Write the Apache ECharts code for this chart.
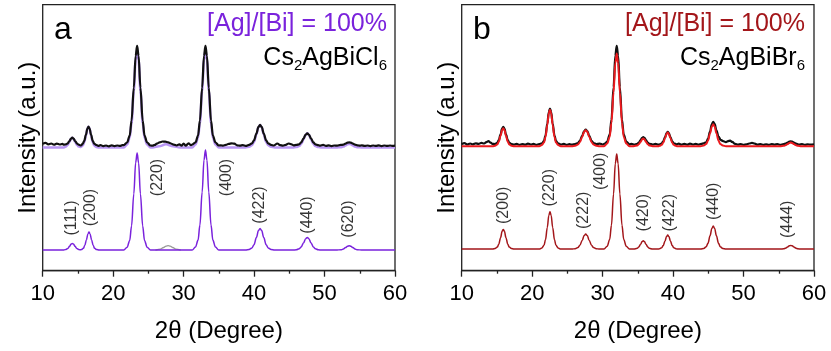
<!DOCTYPE html>
<html><head><meta charset="utf-8">
<script src="https://cdn.jsdelivr.net/npm/echarts@6/dist/echarts.min.js"></script>
<style>html,body{margin:0;padding:0;background:#fff}#c{width:831px;height:351px}</style>
</head><body><div id="c"></div>
<script>
// ---------- Panel a : Cs2AgBiCl6 ----------
const leftExp = [[10,63.4],[10.4,63.9],[10.8,63.2],[11.2,63.6],[11.6,63.0],[12.0,63.5],[12.4,63.1],[12.8,63.4],[13.0,63.0],[13.3,63.2],[13.52,63.58],[13.8,64.86],[14.02,66.1],[14.2,66.5],[14.38,66.1],[14.6,64.86],[14.88,63.58],[15.1,63.0],[15.42,62.6],[15.7,63.54],[15.9,64.95],[16.14,68.05],[16.34,71.06],[16.5,72.0],[16.66,71.06],[16.86,68.05],[17.1,64.95],[17.3,63.54],[17.58,62.9],[17.9,62.4],[18.2,62.8],[18.6,62.3],[19.0,62.6],[19.4,62.2],[19.8,62.7],[20.2,62.3],[20.6,62.6],[21.0,62.4],[21.3,62.8],[21.51,62.8],[21.98,64.1],[22.35,67.6],[22.61,75.0],[22.93,91.5],[23.19,107.4],[23.4,112.4],[23.61,107.4],[23.87,91.5],[24.19,75.0],[24.45,67.6],[24.82,64.1],[25.29,62.6],[25.6,62.5],[25.9,62.9],[26.2,63.5],[26.6,64.2],[27.0,64.6],[27.4,64.5],[27.8,64.2],[28.2,63.6],[28.6,63.0],[29.0,62.6],[29.4,63.2],[29.7,62.5],[30.0,63.6],[30.3,62.5],[30.7,63.7],[31.0,62.8],[31.21,63.0],[31.68,64.1],[32.05,67.6],[32.31,75.0],[32.63,91.5],[32.89,107.4],[33.1,112.4],[33.31,107.4],[33.57,91.5],[33.89,75.0],[34.15,67.6],[34.52,64.1],[34.99,62.6],[35.3,62.7],[35.6,62.5],[36.0,62.9],[36.4,63.4],[36.8,63.7],[37.2,63.5],[37.6,62.7],[38.0,62.5],[38.4,62.8],[38.8,62.4],[39.3,62.9],[39.7,63.63],[39.99,65.18],[40.33,68.57],[40.62,71.87],[40.85,72.9],[41.08,71.87],[41.37,68.57],[41.71,65.18],[42.0,63.63],[42.4,62.9],[42.8,62.6],[43.3,63.6],[43.7,62.8],[44.1,62.5],[44.5,62.9],[44.9,63.6],[45.2,63.3],[45.6,62.7],[46.0,62.9],[46.4,63.21],[46.69,64.13],[47.03,66.14],[47.32,68.09],[47.55,68.7],[47.78,68.09],[48.07,66.14],[48.41,64.13],[48.7,63.21],[49.1,62.8],[49.4,62.5],[49.8,62.9],[50.2,62.4],[50.6,62.7],[51.0,62.3],[51.4,62.6],[51.8,62.5],[52.3,62.9],[52.68,63.0],[52.98,63.5],[53.26,64.0],[53.5,64.2],[53.74,64.0],[54.02,63.5],[54.32,63.0],[54.7,62.7],[55.0,62.5],[55.3,62.7],[55.7,62.4],[56.1,62.6],[56.5,62.3],[56.9,62.6],[57.3,62.4],[57.7,62.7],[58.1,62.3],[58.5,62.6],[58.9,62.4],[59.3,62.6],[59.7,62.4],[60,62.5]];

const leftFit = [[10,61.6],[13.0,61.6],[13.3,62.09],[13.52,62.83],[13.8,64.44],[14.02,66.01],[14.2,66.5],[14.38,66.01],[14.6,64.44],[14.88,62.83],[15.1,62.09],[15.42,61.91],[15.7,62.64],[15.9,64.2],[16.14,67.63],[16.34,70.96],[16.5,72.0],[16.66,70.96],[16.86,67.63],[17.1,64.2],[17.3,62.64],[17.58,61.91],[18.0,61.6],[21.51,61.6],[21.98,63.06],[22.35,66.48],[22.61,73.8],[22.93,89.9],[23.19,105.5],[23.4,110.4],[23.61,105.5],[23.87,89.9],[24.19,73.8],[24.45,66.48],[24.82,63.06],[25.29,61.6],[25.6,61.6],[26.5,62.2],[27.5,63.2],[28.5,62.2],[29.5,61.6],[31.21,61.6],[31.68,63.06],[32.05,66.48],[32.31,73.8],[32.63,89.9],[32.89,105.5],[33.1,110.4],[33.31,105.5],[33.57,89.9],[33.89,73.8],[34.15,66.48],[34.52,63.06],[34.99,61.6],[38.78,61.6],[39.3,61.94],[39.7,62.73],[39.99,64.43],[40.33,68.15],[40.62,71.77],[40.85,72.9],[41.08,71.77],[41.37,68.15],[41.71,64.43],[42.0,62.73],[42.4,61.94],[42.92,61.6],[45.48,61.6],[46.0,61.81],[46.4,62.31],[46.69,63.38],[47.03,65.72],[47.32,67.99],[47.55,68.7],[47.78,67.99],[48.07,65.72],[48.41,63.38],[48.7,62.31],[49.1,61.81],[49.62,61.6],[51.6,61.6],[52.4,61.78],[52.68,62.05],[52.98,62.65],[53.26,63.22],[53.5,63.4],[53.74,63.22],[54.02,62.65],[54.32,62.05],[54.6,61.78],[55.4,61.6],[60,61.6]];

const leftCalc = [[10,10.3],[12.6,10.3],[13.0,10.4],[13.31,10.64],[13.56,11.14],[13.82,12.24],[14.03,13.3],[14.2,13.65],[14.37,13.3],[14.58,12.24],[14.84,11.14],[15.09,10.64],[15.3,10.45],[15.49,10.57],[15.77,11.2],[15.97,12.55],[16.21,15.52],[16.41,18.4],[16.57,19.3],[16.73,18.4],[16.93,15.52],[17.17,12.55],[17.37,11.2],[17.65,10.57],[18.0,10.3],[21.51,10.3],[21.98,11.75],[22.35,15.15],[22.61,22.4],[22.93,38.4],[23.19,53.95],[23.4,58.8],[23.61,53.95],[23.87,38.4],[24.19,22.4],[24.45,15.15],[24.82,11.75],[25.29,10.3],[31.21,10.3],[31.68,11.8],[32.05,15.3],[32.31,22.8],[32.63,39.3],[32.89,55.3],[33.1,60.3],[33.31,55.3],[33.57,39.3],[33.89,22.8],[34.15,15.3],[34.52,11.8],[34.99,10.3],[38.78,10.3],[39.3,10.63],[39.7,11.39],[39.99,13.01],[40.33,16.59],[40.62,20.07],[40.85,21.15],[41.08,20.07],[41.37,16.59],[41.71,13.01],[42.0,11.39],[42.4,10.63],[42.92,10.3],[45.48,10.3],[46.0,10.49],[46.4,10.94],[46.69,11.89],[47.03,13.98],[47.32,16.02],[47.55,16.65],[47.78,16.02],[48.07,13.98],[48.41,11.89],[48.7,10.94],[49.1,10.49],[49.62,10.3],[51.6,10.3],[52.4,10.52],[52.68,10.84],[52.98,11.55],[53.26,12.24],[53.5,12.45],[53.74,12.24],[54.02,11.55],[54.32,10.84],[54.6,10.52],[55.4,10.3],[60,10.3]];

const leftCalcGrey = [[26.0,10.3],[26.7,10.8],[27.15,11.6],[27.5,12.3],[27.8,12.55],[28.1,12.3],[28.45,11.6],[28.9,10.8],[29.6,10.3]];

const leftHkl = [[14.16,26.35,'(111)'],[16.86,31.6,'(200)'],[26.29,46.6,'(220)'],[36.11,46.6,'(400)'],[40.84,32.85,'(422)'],[47.55,27.85,'(440)'],[53.47,25.85,'(620)']];

// ---------- Panel b : Cs2AgBiBr6 ----------
const rightExp = [[10,63.3],[10.4,63.8],[10.8,63.1],[11.2,63.6],[11.6,63.2],[12.0,63.7],[12.4,63.4],[12.8,63.9],[13.2,63.6],[13.5,64.3],[13.8,64.8],[14.1,64.0],[14.37,63.4],[14.75,63.36],[15.05,63.98],[15.26,65.3],[15.52,68.2],[15.73,71.02],[15.9,71.9],[16.07,71.02],[16.28,68.2],[16.54,65.3],[16.75,63.98],[17.05,63.36],[17.4,63.0],[17.8,63.4],[18.2,62.9],[18.6,63.3],[19.0,63.0],[19.4,63.5],[19.8,63.1],[20.2,63.4],[20.6,62.9],[21.0,63.3],[21.38,63.64],[21.68,64.9],[21.89,67.6],[22.15,73.54],[22.36,79.3],[22.53,81.1],[22.7,79.3],[22.91,73.54],[23.17,67.6],[23.38,64.9],[23.68,63.64],[24.06,63.1],[24.5,63.4],[24.9,62.9],[25.3,63.3],[25.62,63.0],[26.11,63.33],[26.5,63.85],[26.77,64.98],[27.1,67.45],[27.38,69.85],[27.6,70.6],[27.82,69.85],[28.1,67.45],[28.43,64.98],[28.7,63.85],[29.09,63.33],[29.6,63.5],[30.0,63.1],[30.3,63.5],[30.65,64.6],[31.0,68.0],[31.25,75.4],[31.55,91.7],[31.8,107.5],[32.0,112.4],[32.2,107.5],[32.45,91.7],[32.75,75.4],[33.0,68.0],[33.35,64.6],[33.8,63.2],[34.1,63.4],[34.5,63.0],[34.92,63.47],[35.13,64.03],[35.39,65.25],[35.6,66.43],[35.77,66.8],[35.94,66.43],[36.15,65.25],[36.41,64.03],[36.62,63.47],[37.1,63.1],[37.5,63.4],[37.9,63.0],[38.2,63.3],[38.39,63.73],[38.6,64.68],[38.86,66.75],[39.07,68.77],[39.24,69.4],[39.41,68.77],[39.62,66.75],[39.88,64.68],[40.09,63.73],[40.5,63.2],[40.8,63.5],[41.2,63.0],[41.6,63.4],[42.0,63.0],[42.4,63.5],[42.8,63.1],[43.2,63.4],[43.6,63.0],[44.0,63.4],[44.35,63.7],[44.7,64.23],[44.95,65.93],[45.25,69.65],[45.5,73.27],[45.7,74.4],[45.9,73.4],[46.15,70.2],[46.45,67.0],[46.75,65.4],[47.1,64.8],[47.5,64.3],[47.8,64.8],[48.1,65.0],[48.4,64.4],[48.8,63.4],[49.2,63.0],[49.6,63.3],[50.0,62.9],[50.4,63.2],[50.8,63.6],[51.2,63.9],[51.6,63.5],[52.0,63.0],[52.4,63.3],[52.8,62.9],[53.2,63.2],[53.6,62.9],[54.0,63.3],[54.4,63.0],[54.8,63.3],[55.2,62.9],[55.7,63.3],[55.95,63.5],[56.25,64.0],[56.5,64.5],[56.7,64.7],[56.9,64.5],[57.15,64.0],[57.45,63.5],[57.9,63.0],[58.3,63.3],[58.7,62.9],[59.1,63.2],[59.5,63.0],[60,63.2]];

const rightFit = [[10,62.25],[14.37,62.25],[14.75,62.52],[15.05,63.15],[15.26,64.5],[15.52,67.47],[15.73,70.35],[15.9,71.25],[16.07,70.35],[16.28,67.47],[16.54,64.5],[16.75,63.15],[17.05,62.52],[17.43,62.25],[21.0,62.25],[21.38,62.8],[21.68,64.08],[21.89,66.81],[22.15,72.84],[22.36,78.68],[22.53,80.5],[22.7,78.68],[22.91,72.84],[23.17,66.81],[23.38,64.08],[23.68,62.8],[24.06,62.25],[25.62,62.25],[26.11,62.49],[26.5,63.05],[26.77,64.25],[27.1,66.89],[27.38,69.45],[27.6,70.25],[27.82,69.45],[28.1,66.89],[28.43,64.25],[28.7,63.05],[29.09,62.49],[29.58,62.25],[30.2,62.25],[30.65,63.65],[31.0,66.85],[31.25,73.85],[31.55,89.15],[31.8,103.95],[32.0,108.6],[32.2,103.95],[32.45,89.15],[32.75,73.85],[33.0,66.85],[33.35,63.65],[33.8,62.25],[34.4,62.25],[34.92,62.63],[35.13,63.2],[35.39,64.45],[35.6,65.67],[35.77,66.05],[35.94,65.67],[36.15,64.45],[36.41,63.2],[36.62,62.63],[37.1,62.25],[37.9,62.25],[38.09,62.45],[38.39,62.93],[38.6,63.95],[38.86,66.19],[39.07,68.37],[39.24,69.05],[39.41,68.37],[39.62,66.19],[39.88,63.95],[40.09,62.93],[40.39,62.45],[40.6,62.25],[43.9,62.25],[44.35,62.58],[44.7,63.35],[44.95,65.0],[45.25,68.63],[45.5,72.15],[45.7,73.25],[45.9,72.15],[46.15,68.63],[46.45,65.0],[46.7,63.35],[47.05,62.58],[47.5,62.25],[55.2,62.25],[55.7,62.43],[55.95,62.7],[56.25,63.29],[56.5,63.87],[56.7,64.05],[56.9,63.87],[57.15,63.29],[57.45,62.7],[57.7,62.43],[58.2,62.25],[60,62.25]];

const rightCalc = [[10,10.8],[14.37,10.8],[14.75,11.1],[15.05,11.79],[15.26,13.26],[15.52,16.51],[15.73,19.67],[15.9,20.65],[16.07,19.67],[16.28,16.51],[16.54,13.26],[16.75,11.79],[17.05,11.1],[17.43,10.8],[21.0,10.8],[21.38,11.36],[21.68,12.67],[21.89,15.46],[22.15,21.62],[22.36,27.59],[22.53,29.45],[22.7,27.59],[22.91,21.62],[23.17,15.46],[23.38,12.67],[23.68,11.36],[24.06,10.8],[25.62,10.8],[26.11,11.03],[26.5,11.55],[26.77,12.68],[27.1,15.15],[27.38,17.55],[27.6,18.3],[27.82,17.55],[28.1,15.15],[28.43,12.68],[28.7,11.55],[29.09,11.03],[29.58,10.8],[30.2,10.8],[30.65,12.23],[31.0,15.55],[31.25,22.68],[31.55,38.35],[31.8,53.55],[32.0,58.3],[32.2,53.55],[32.45,38.35],[32.75,22.68],[33.0,15.55],[33.35,12.23],[33.8,10.8],[34.4,10.8],[34.92,11.22],[35.13,11.84],[35.39,13.21],[35.6,14.54],[35.77,14.95],[35.94,14.54],[36.15,13.21],[36.41,11.84],[36.62,11.22],[37.1,10.8],[37.9,10.8],[38.09,11.01],[38.39,11.5],[38.6,12.55],[38.86,14.86],[39.07,17.1],[39.24,17.8],[39.41,17.1],[39.62,14.86],[39.88,12.55],[40.09,11.5],[40.39,11.01],[40.6,10.8],[43.9,10.8],[44.35,11.15],[44.7,11.95],[44.95,13.68],[45.25,17.47],[45.5,21.15],[45.7,22.3],[45.9,21.15],[46.15,17.47],[46.45,13.68],[46.7,11.95],[47.05,11.15],[47.5,10.8],[55.2,10.8],[55.7,10.99],[55.95,11.26],[56.25,11.87],[56.5,12.47],[56.7,12.65],[56.9,12.47],[57.15,11.87],[57.45,11.26],[57.7,10.99],[58.2,10.8],[60,10.8]];

const rightHkl = [[16.0,32.7,'(200)'],[22.53,41.5,'(220)'],[27.36,30.2,'(222)'],[29.77,49.7,'(400)'],[35.77,29.0,'(420)'],[39.56,29.0,'(422)'],[45.81,34.7,'(440)'],[56.31,25.7,'(444)']];

const xRange = [10, 60];
const yRange = [0, 133];

// ---------- chart ----------
const FONT = 'Arial, "Liberation Sans", Helvetica, sans-serif';
const AX = '#222';
const PURPLE = '#7a22dc', LAV = '#b996f4', DRED = '#a3161a', RED = '#ec1a1e';

function xAxisCfg(gi) {
  return {
    type: 'value', gridIndex: gi, min: xRange[0], max: xRange[1], interval: 10,
    name: '2θ (Degree)', nameLocation: 'middle', nameGap: 49,
    nameTextStyle: { fontSize: 24, color: '#000', fontFamily: FONT },
    axisLine: { show: true, lineStyle: { color: AX, width: 1.3 } },
    axisTick: { show: true, inside: false, length: 6, lineStyle: { color: AX, width: 1.3 } },
    minorTick: { show: true, splitNumber: 2, length: 3, lineStyle: { color: AX, width: 1.3 } },
    axisLabel: { fontSize: 22, color: '#000', margin: 12, fontFamily: FONT, showMinLabel: true, showMaxLabel: true, hideOverlap: false },
    splitLine: { show: false }, minorSplitLine: { show: false }
  };
}
function yAxisCfg(gi) {
  return {
    type: 'value', gridIndex: gi, min: yRange[0], max: yRange[1],
    name: 'Intensity (a.u.)', nameLocation: 'middle', nameGap: 2, nameRotate: 90,
    nameTextStyle: { fontSize: 24, color: '#000', fontFamily: FONT },
    axisLine: { show: false }, axisTick: { show: false }, axisLabel: { show: false },
    splitLine: { show: false }
  };
}
function lineS(gi, data, color, width, z) {
  return { type: 'line', xAxisIndex: gi, yAxisIndex: gi, data: data, showSymbol: false, symbol: 'none',
    smooth: 0.35, smoothMonotone: 'x', lineStyle: { color: color, width: width }, z: z, silent: true };
}
function hklS(gi, data) {
  return { type: 'scatter', xAxisIndex: gi, yAxisIndex: gi, data: data, symbolSize: 1,
    itemStyle: { color: 'rgba(0,0,0,0)' }, silent: true, z: 10,
    label: { show: true, position: 'inside', rotate: 90, fontSize: 16, color: '#000', fontFamily: FONT,
      formatter: p => p.data[2] } };
}
function rich(main, sub1, main2, sub2) {
  return '{m|' + main + '}{s|' + sub1 + '}{m|' + main2 + '}{s|' + sub2 + '}';
}
const richStyle = {
  m: { fontSize: 25, fontFamily: FONT, fill: '#000', lineHeight: 30 },
  s: { fontSize: 15, fontFamily: FONT, fill: '#000', lineHeight: 15, verticalAlign: 'bottom' }
};

const option = {
  animation: false,
  backgroundColor: '#fff',
  grid: [
    { left: 42.7, top: 4.7, width: 352.3, height: 266, show: true, borderColor: AX, borderWidth: 1.3, containLabel: false, outerBoundsMode: 'none' },
    { left: 461.7, top: 4.7, width: 352.3, height: 266, show: true, borderColor: AX, borderWidth: 1.3, containLabel: false, outerBoundsMode: 'none' }
  ],
  xAxis: [xAxisCfg(0), xAxisCfg(1)],
  yAxis: [yAxisCfg(0), yAxisCfg(1)],
  series: [
    lineS(0, leftFit, LAV, 2.5, 2),
    lineS(0, leftExp, '#111', 2.2, 3),
    lineS(0, leftCalcGrey, '#9a9a9a', 1.3, 2),
    lineS(0, leftCalc, PURPLE, 1.5, 3),
    hklS(0, leftHkl),
    lineS(1, rightExp, '#111', 2.2, 2),
    lineS(1, rightFit, RED, 2, 3),
    lineS(1, rightCalc, DRED, 1.5, 3),
    hklS(1, rightHkl)
  ],
  graphic: [
    { type: 'text', x: 63, y: 30, style: { text: 'a', fontSize: 32, fontFamily: FONT, fill: '#000', align: 'center', verticalAlign: 'middle' } },
    { type: 'text', x: 387, y: 24, style: { text: '[Ag]/[Bi] = 100%', fontSize: 25, fontFamily: FONT, fill: PURPLE, align: 'right', verticalAlign: 'middle' } },
    { type: 'text', x: 387, y: 58, style: { text: rich('Cs', '2', 'AgBiCl', '6'), rich: richStyle, align: 'right', verticalAlign: 'middle' } },
    { type: 'text', x: 482, y: 30, style: { text: 'b', fontSize: 32, fontFamily: FONT, fill: '#000', align: 'center', verticalAlign: 'middle' } },
    { type: 'text', x: 805, y: 24, style: { text: '[Ag]/[Bi] = 100%', fontSize: 25, fontFamily: FONT, fill: DRED, align: 'right', verticalAlign: 'middle' } },
    { type: 'text', x: 805, y: 58, style: { text: rich('Cs', '2', 'AgBiBr', '6'), rich: richStyle, align: 'right', verticalAlign: 'middle' } }
  ]
};
const chart = echarts.init(document.getElementById('c'));
chart.setOption(option);
</script>
</body></html>
